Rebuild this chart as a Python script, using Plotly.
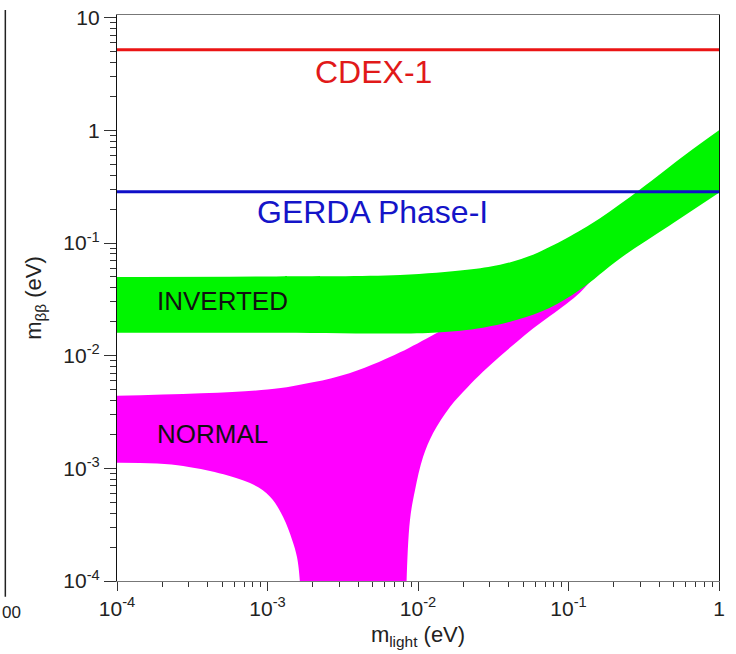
import math
import plotly.graph_objects as go

# ---------------- data ----------------
# Inverted hierarchy band (green)
ih_up_x = [1e-4, 1e-3, 7.6e-3, 0.0212, 0.0351, 0.0581, 0.0753, 0.0977, 0.162, 0.3, 0.6, 1.0]
ih_up_y = [0.050, 0.0505, 0.052, 0.0578, 0.064, 0.0785, 0.0925, 0.111, 0.166, 0.30, 0.61, 1.0]
ih_lo_x = [1e-4, 1e-3, 0.0126, 0.027, 0.0455, 0.0753, 0.119, 0.22, 0.47, 1.0]
ih_lo_y = [0.016, 0.016, 0.016, 0.0177, 0.0208, 0.0266, 0.0384, 0.073, 0.143, 0.279]

# Normal hierarchy band (magenta): upper edge
nh_up_x = [1e-4, 1e-3, 2e-3, 3.5e-3, 5.5e-3, 7.6e-3, 0.0134, 0.03, 0.07, 0.15, 0.4, 1.0]
nh_up_y = [0.0044, 0.0050, 0.0058, 0.0070, 0.0088, 0.0107, 0.016, 0.030, 0.060, 0.14, 0.36, 0.9]
# lower edge, left branch (falls to zero near 1.6e-3 eV)
nh_lo_l_x = [1e-4, 2.75e-4, 7.65e-4, 1.04e-3, 1.27e-3, 1.46e-3, 1.57e-3, 1.64e-3, 1.70e-3]
nh_lo_l_y = [1.12e-3, 1.05e-3, 7.4e-4, 5.6e-4, 3.7e-4, 2.3e-4, 1.63e-4, 1.0e-4, 3e-5]
# lower edge, right branch (rises from zero near 8.4e-3 eV)
nh_lo_r_x = [8.3e-3, 8.4e-3, 8.85e-3, 9.55e-3, 0.0108, 0.0126, 0.0163, 0.0212, 0.027,
             0.0351, 0.0455, 0.0581, 0.0753, 0.0977, 0.119, 0.145, 0.22, 0.47, 1.0]
nh_lo_r_y = [3e-5, 1e-4, 3.5e-4, 6.4e-4, 1.26e-3, 2.06e-3, 3.51e-3, 5.19e-3, 7.19e-3,
             9.89e-3, 0.0133, 0.0174, 0.0225, 0.0291, 0.0362, 0.048, 0.0755, 0.147, 0.29]

# Experimental limits
limit_names = ["CDEX-1", "GERDA Phase-I"]
limit_values = [5.2, 0.285]
x_span = [1e-4, 1.0]

# Labels
label_text = ["CDEX-1", "GERDA Phase-I", "INVERTED", "NORMAL"]
label_x = [5.1e-3, 5.0e-3, 1.79e-4, 1.79e-4]
label_y = [3.3, 0.189, 0.0307, 0.00202]

# Tick labels
x_tickvals = [1e-4, 1e-3, 1e-2, 1e-1, 1]
x_ticktext = ["10<sup>-4</sup>", "10<sup>-3</sup>", "10<sup>-2</sup>", "10<sup>-1</sup>", "1"]
y_tickvals = [1e-4, 1e-3, 1e-2, 1e-1, 1, 10]
y_ticktext = ["10<sup>-4</sup>", "10<sup>-3</sup>", "10<sup>-2</sup>", "10<sup>-1</sup>", "1", "10"]

FONT = "Liberation Sans, Arial, sans-serif"
MAGENTA = "#ff00ff"
GREEN = "#00f500"
SM = 1.0

fig = go.Figure()

# Normal hierarchy band
nh_lo_x = nh_lo_l_x + nh_lo_r_x
nh_lo_y = nh_lo_l_y + nh_lo_r_y
fig.add_trace(go.Scatter(x=nh_lo_x, y=nh_lo_y, mode="lines",
                         line=dict(width=0, color=MAGENTA, shape="spline", smoothing=SM),
                         hoverinfo="skip", showlegend=False))
fig.add_trace(go.Scatter(x=nh_up_x, y=nh_up_y, mode="lines", fill="tonexty",
                         line=dict(width=0, color=MAGENTA, shape="spline", smoothing=SM),
                         fillcolor=MAGENTA, hoverinfo="skip", showlegend=False))

# Inverted hierarchy band
fig.add_trace(go.Scatter(x=ih_lo_x, y=ih_lo_y, mode="lines",
                         line=dict(width=0, color=GREEN, shape="spline", smoothing=SM),
                         hoverinfo="skip", showlegend=False))
fig.add_trace(go.Scatter(x=ih_up_x, y=ih_up_y, mode="lines", fill="tonexty",
                         line=dict(width=0, color=GREEN, shape="spline", smoothing=SM),
                         fillcolor=GREEN, hoverinfo="skip", showlegend=False))

# Limit lines
limit_colors = ["rgb(235,20,20)", "rgb(15,15,200)"]
for name, val, col in zip(limit_names, limit_values, limit_colors):
    fig.add_trace(go.Scatter(x=x_span, y=[val, val], mode="lines",
                             line=dict(color=col, width=3), name=name,
                             hoverinfo="skip", showlegend=False))

# Text labels
label_colors = ["rgb(225,25,25)", "rgb(20,20,200)", "#111111", "#111111"]
label_sizes = [32, 32, 26, 26]
label_anchor = ["center", "center", "left", "left"]
for t, xv, yv, c, s, a in zip(label_text, label_x, label_y, label_colors, label_sizes, label_anchor):
    fig.add_annotation(x=math.log10(xv), y=math.log10(yv),
                       xref="x", yref="y", text=t, showarrow=False,
                       xanchor=a, yanchor="middle",
                       font=dict(family=FONT, size=s, color=c))

# Fragment of the neighbouring panel at the left edge (decoration)
fig.add_shape(type="line", xref="paper", yref="paper",
              x0=-0.1855, x1=-0.1855, y0=-0.028, y1=1.009,
              line=dict(color="#222222", width=1.5))
fig.add_annotation(xref="paper", yref="paper", x=-0.1944, y=-0.036, text="00",
                   showarrow=False, xanchor="left", yanchor="top",
                   font=dict(family=FONT, size=17, color="#222222"))

fig.update_xaxes(type="log", range=[-4, 0], tickmode="array",
                 tickvals=x_tickvals, ticktext=x_ticktext, automargin=False,
                 showgrid=False, zeroline=False,
                 showline=True, linecolor="#777777", linewidth=1.2, mirror=True,
                 ticks="outside", ticklen=9, tickcolor="#333333", tickwidth=1,
                 minor=dict(ticks="outside", ticklen=5, dtick="D1", tickcolor="#333333", showgrid=False),
                 tickfont=dict(family=FONT, size=21, color="#222222"),
                 title=dict(text="m<sub>light</sub> (eV)", standoff=7,
                            font=dict(family=FONT, size=22, color="#222222")))
fig.update_yaxes(type="log", range=[-4, 1.024], tickmode="array",
                 tickvals=y_tickvals, ticktext=y_ticktext, automargin=False,
                 showgrid=False, zeroline=False,
                 showline=True, linecolor="#111111", linewidth=1.2, mirror=True,
                 ticks="outside", ticklen=12, tickcolor="#333333", tickwidth=1,
                 minor=dict(ticks="outside", ticklen=6, dtick="D1", tickcolor="#333333", showgrid=False),
                 tickfont=dict(family=FONT, size=21, color="#222222"),
                 title=dict(text="m<sub>ββ</sub> (eV)", standoff=15,
                            font=dict(family=FONT, size=22, color="#222222")))

fig.update_layout(width=736, height=654, autosize=False,
                  margin=dict(l=117, r=17, t=15, b=73),
                  paper_bgcolor="white", plot_bgcolor="white",
                  showlegend=False)

fig.write_html("out.html")
